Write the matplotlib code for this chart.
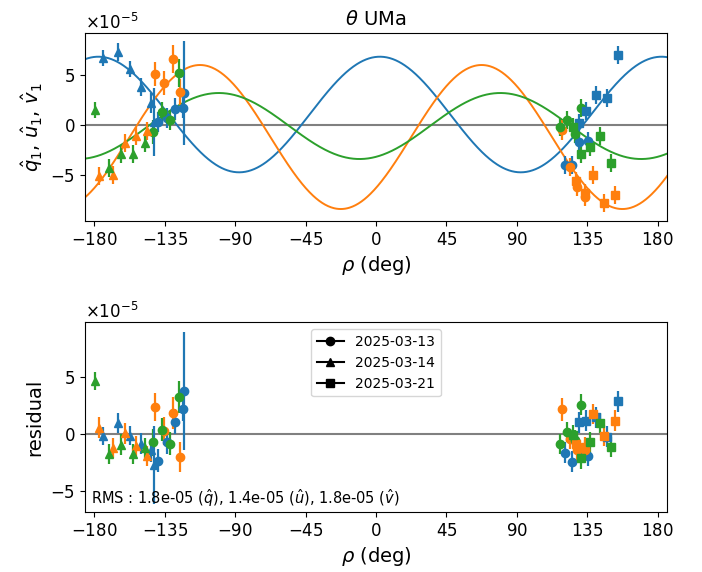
import numpy as np
import matplotlib
matplotlib.use("Agg")
import matplotlib.pyplot as plt

plt.rcParams['axes.formatter.use_mathtext'] = True

# ---------------- data (units of 1e-5) ----------------
dates = ["2025-03-13", "2025-03-14", "2025-03-21"]
markers = ["o", "^", "s"]

# 2025-03-13 (circles)
rho_q_13 = [-139.1, -133.9, -128.3, -123.6, -122.6, 120.5, 125.0, 129.6, 135.4]
q_13 = [0.3, 0.7, 1.6, 1.7, 3.2, -4.0, -4.0, -1.7, -1.6]
q_13_res = [-2.3, -0.7, 1.1, 2.2, 3.8, -1.6, -2.4, -1.3, -1.9]
q_13_err = [1.0, 1.0, 1.1, 1.0, 5.2, 0.9, 0.9, 0.9, 0.9]

rho_u_13 = [-141.2, -135.3, -129.6, -125.1, 119.1, 123.7, 128.4, 133.3]
u_13 = [5.1, 4.2, 6.6, 3.3, -0.5, -4.2, -6.2, -7.2]
u_13_res = [2.4, 0.3, 1.9, -2.0, 2.2, -0.4, -1.4, -1.4]
u_13_err = [1.2, 1.2, 1.4, 1.3, 1.0, 0.9, 0.9, 0.9]

rho_v_13 = [-142.6, -136.9, -131.5, -126.1, 117.8, 122.0, 126.9, 131.2]
v_13 = [-0.7, 1.3, 0.5, 5.2, -0.2, 0.5, -0.9, 1.7]
v_13_res = [-0.7, 0.4, -0.8, 3.3, -0.85, 0.2, -0.5, 2.6]
v_13_err = [1.2, 1.0, 1.0, 1.4, 0.9, 0.9, 0.9, 0.9]

# 2025-03-14 (triangles)
rho_q_14 = [-174.3, -165.2, -157.4, -150.5, -144.0, -141.8]
q_14 = [6.7, 7.3, 5.6, 3.8, 2.2, 0.3]
q_14_res = [-0.15, 1.0, -0.1, -0.8, -1.4, -2.7]
q_14_err = [0.8, 0.9, 0.8, 0.9, 1.0, 3.4]

rho_u_14 = [-177.1, -168.0, -160.6, -153.2, -146.2]
u_14 = [-5.1, -5.0, -1.8, -1.1, -0.6]
u_14_res = [0.6, -1.2, 0.1, -1.0, -1.9]
u_14_err = [0.9, 0.9, 0.9, 0.9, 0.9]

rho_v_14 = [-179.6, -170.5, -162.7, -155.3, -147.9]
v_14 = [1.5, -4.3, -2.9, -2.9, -1.8]
v_14_res = [4.7, -1.7, -0.9, -1.7, -1.2]
v_14_err = [0.8, 0.9, 0.9, 0.9, 0.9]

# 2025-03-21 (squares)
rho_q_21 = [129.5, 134.4, 140.7, 147.7, 154.9]
q_21 = [0.2, 1.4, 3.0, 2.7, 7.0]
q_21_res = [1.05, 1.2, 1.5, -0.2, 2.9]
q_21_err = [0.9, 0.9, 0.9, 0.9, 0.9]

rho_u_21 = [128.0, 133.3, 138.6, 145.6, 152.8]
u_21 = [-5.6, -6.8, -5.0, -7.8, -7.0]
u_21_res = [-0.8, -1.1, 1.8, -0.1, 1.2]
u_21_err = [0.9, 0.9, 0.9, 0.9, 0.9]

rho_v_21 = [125.8, 131.2, 136.9, 143.5, 150.3]
v_21 = [-0.2, -2.9, -2.2, -1.1, -3.8]
v_21_res = [-0.05, -2.1, -0.7, 1.0, -1.1]
v_21_err = [0.9, 0.9, 0.9, 0.9, 0.9]

# fitted model: offset + amplitude * cos(2 (rho - rho_max))
model_offset = [1.05, -1.2, -0.1]
model_amp = [5.78, 7.2, 3.3]
model_rho_max = [2.5, 67.5, 79.5]

rms_text = r"RMS : 1.8e-05 ($\hat{q}$), 1.4e-05 ($\hat{u}$), 1.8e-05 ($\hat{v}$)"
xticks = [-180, -135, -90, -45, 0, 45, 90, 135, 180]

# ---------------- figure ----------------
scale = 1e-5
fig = plt.figure(figsize=(7.02, 5.72), dpi=100)
ax1 = fig.add_axes([0.1211, 0.6136, 0.8290, 0.3287])
ax2 = fig.add_axes([0.1211, 0.1049, 0.8290, 0.3313])

colors = ["C0", "C1", "C2"]
groups = {
    0: [(rho_q_13, q_13, q_13_res, q_13_err), (rho_u_13, u_13, u_13_res, u_13_err), (rho_v_13, v_13, v_13_res, v_13_err)],
    1: [(rho_q_14, q_14, q_14_res, q_14_err), (rho_u_14, u_14, u_14_res, u_14_err), (rho_v_14, v_14, v_14_res, v_14_err)],
    2: [(rho_q_21, q_21, q_21_res, q_21_err), (rho_u_21, u_21, u_21_res, u_21_err), (rho_v_21, v_21, v_21_res, v_21_err)],
}

rr = np.linspace(-190, 190, 800)
for k in range(3):
    mod = model_offset[k] + model_amp[k] * np.cos(np.deg2rad(2 * (rr - model_rho_max[k])))
    ax1.plot(rr, mod * scale, color=colors[k], lw=1.4, zorder=2)

for ax in (ax1, ax2):
    ax.axhline(0, color="gray", lw=1.5, zorder=1)

for d in range(3):
    for k in range(3):
        r, val, res, err = groups[d][k]
        ax1.errorbar(r, np.array(val) * scale, yerr=np.array(err) * scale, fmt=markers[d],
                     color=colors[k], ms=6, elinewidth=1.6, capsize=0, zorder=3)
        ax2.errorbar(r, np.array(res) * scale, yerr=np.array(err) * scale, fmt=markers[d],
                     color=colors[k], ms=6, elinewidth=1.6, capsize=0, zorder=3)

for ax in (ax1, ax2):
    ax.set_xlim(-186, 186)
    ax.set_xticks(xticks)
    ax.set_xlabel(r"$\rho$ (deg)", fontsize=14)
    ax.tick_params(labelsize=12)
    ax.yaxis.get_offset_text().set_fontsize(12)

ax1.set_ylim(-9.6e-5, 9.2e-5)
ax1.set_yticks([-5e-5, 0, 5e-5])
ax2.set_ylim(-6.8e-5, 9.8e-5)
ax2.set_yticks([-5e-5, 0, 5e-5])

ax1.set_title(r"$\theta$ UMa", fontsize=14)
ax1.set_ylabel(r"$\hat{q}_1$, $\hat{u}_1$, $\hat{v}_1$", fontsize=14)
ax2.set_ylabel("residual", fontsize=14)

handles = [plt.Line2D([], [], color="black", marker=m, ms=6) for m in markers]
ax2.legend(handles, dates, loc="upper center", fontsize=10)
ax2.text(0.01, 0.015, rms_text, transform=ax2.transAxes, fontsize=10.5, ha="left", va="bottom")

fig.savefig("out.png", dpi=100)
